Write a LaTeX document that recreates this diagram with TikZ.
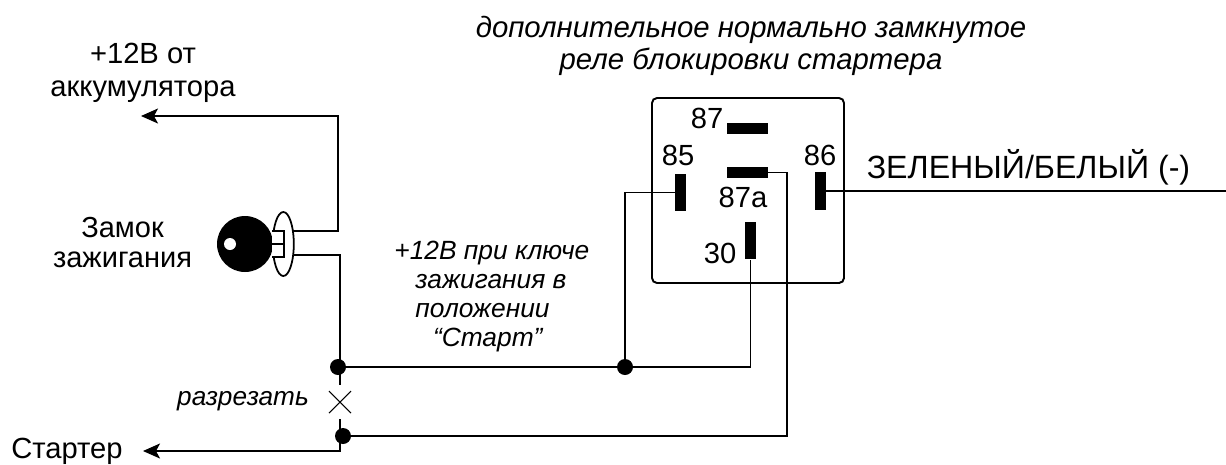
\documentclass[tikz,border=0pt]{standalone}
\usepackage{fontspec}
\setmainfont{Liberation Sans}
\usetikzlibrary{arrows.meta}
\tikzset{
	wire/.style={line width=1pt},
	tip/.style={-{Stealth[length=0.34cm, width=0.3cm, inset=0.08cm]}},
	pin/.style={fill=black, inner sep=0pt, minimum width=#1},
	dot/.style={circle, fill=black, inner sep=0pt, minimum size=0.32cm},
	lbl/.style={font=\fontsize{16.6}{18.8}\selectfont, align=center, inner sep=0pt},
	note/.style={font=\fontsize{16.7}{18.2}\selectfont\itshape, align=center, inner sep=0pt}
}
\begin{document}
\begin{tikzpicture}[x=0.02cm, y=-0.02cm]
		\useasboundingbox (0,0) rectangle (1226,464);
		% Relay
		\draw[wire, line width=1.1pt, rounded corners=0.1cm] (652,98) rectangle (844,283);
		\node[pin=0.82cm, minimum height=0.22cm] (pinB) at (747.5,128.5) {};
		\node[pin=0.82cm, minimum height=0.22cm] (pinA) at (747,172.5) {};
		\node[pin=0.22cm, minimum height=0.75cm] (pinL) at (680.5,192.5) {};
		\node[pin=0.22cm, minimum height=0.75cm] (pinR) at (820.5,191) {};
		\node[pin=0.22cm, minimum height=0.75cm] (pinC) at (750.5,240.5) {};

		\node[lbl] (lblB) at (707,118) {87};
		\node[lbl] (lblL) at (678,155) {85};
		\node[lbl] (lblR) at (820,155) {86};
		\node[lbl] (lblA) at (743,197) {87a};
		\node[lbl] (lblC) at (720,253) {30};

		% Key
		\node[circle, fill=black, inner sep=0pt, minimum size=1.12cm] (key) at (245,244) {};
		\node[circle, fill=white, inner sep=0pt, minimum size=0.24cm] (hole) at (230,244) {};
		\draw[wire, fill=white] (283.3,244) ellipse (10.5 and 32);
		\draw[wire, fill=white] (272,231) -- (284,231) -- (284,257) -- (272,257);
		\draw[wire] (272,244) -- (284,244);

		% Junctions
		\node[dot] (jA) at (338,367) {};
		\node[dot] (jB) at (625,367) {};
		\node[dot] (jC) at (343,436) {};
		\coordinate (cutT) at (340,385);
		\coordinate (cutB) at (340,419);
		\coordinate (cutC) at (340,402);
		\coordinate (batt) at (141,116);
		\coordinate (start) at (143,451);
		\coordinate (out) at (1226,191);

		% Wires
		\draw[wire, tip] (293,231) -- (338,231) -- (338,116) -- (batt);
		\draw[wire] (293,255) -- (340,255) -- (cutT);
		\draw[wire, tip] (cutB) -- (340,451) -- (start);
		\draw[wire] (jA) -- (jB);
		\draw[wire] (jB) -- (pinC |- jB) -- (pinC);
		\draw[wire] (jB) -- (jB |- pinL) -- (pinL);
		\draw[wire] (pinA) -- (787,172.5) -- (787,436) -- (jC);
		\draw[wire] (pinR) -- (out);
		\draw[line width=0.6pt] ([shift={(-11,-11)}]cutC) -- ([shift={(11,11)}]cutC);
		\draw[line width=0.6pt] ([shift={(-11,11)}]cutC) -- ([shift={(11,-11)}]cutC);

		% Text
		\node[note] (title) at (751,46) {дополнительное нормально замкнутое\\реле блокировки стартера};
		\node[lbl] (battlbl) at (143,73) {+12В от\\аккумулятора};
		\node[lbl, font=\fontsize{18.3}{20}\selectfont] (outlbl) at (1028.5,167) {ЗЕЛЕНЫЙ/БЕЛЫЙ (-)};
		\node[lbl, font=\fontsize{16.5}{17.6}\selectfont] (keylbl) at (122.5,242.5) {Замок\\зажигания};
		\node[note, anchor=west, font=\fontsize{15}{16.5}\selectfont\itshape, align=left] (notelbl) at (394,297) {+12В при ключе\\\hspace*{12pt}зажигания в\\\hspace*{12pt}положении\\\hspace*{22pt}“Старт”};
		\node[note, font=\fontsize{14.9}{16}\selectfont\itshape] (cutlbl) at (243,401) {разрезать};
		\node[lbl] (startlbl) at (67,451) {Стартер};
	\end{tikzpicture}
\end{document}
